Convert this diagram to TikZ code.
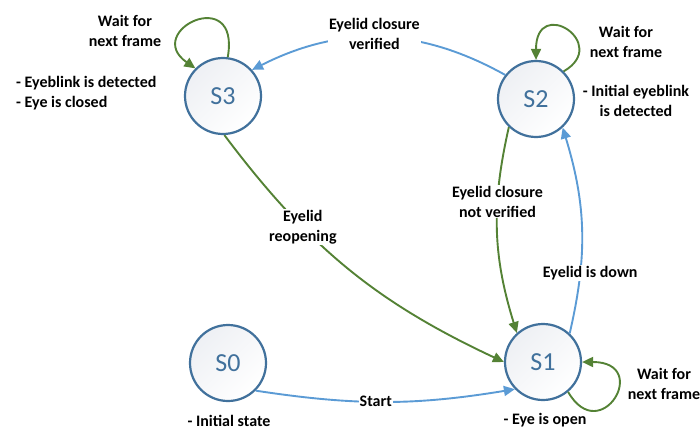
\documentclass[tikz,border=0pt]{standalone}
\usepackage{fontspec}
\setmainfont{Carlito}
\usepackage{tikz}
\usetikzlibrary{arrows.meta}
\definecolor{leafgreen}{HTML}{548235}
\definecolor{skyblue}{HTML}{5B9BD5}
\definecolor{slateblue}{HTML}{41719C}
\definecolor{statefill}{HTML}{EEF0F4}
\tikzset{
  state/.style={circle, draw=slateblue, line width=2.2pt, minimum size=76pt,
    inner sep=0pt, top color=statefill, bottom color=white, shading angle=45,
    text=slateblue, font=\fontsize{26}{30}\selectfont},
  trans/.style={-{Triangle[length=11pt,width=10pt]}, line width=1.9pt},
  note/.style={font=\bfseries\fontsize{16}{20}\selectfont, align=center,
    inner sep=1pt, text=black},
  tag/.style={note, fill=white}
}

\begin{document}
\begin{tikzpicture}[x=1pt, y=1pt]

  \useasboundingbox (0,0) rectangle (700,432);

  % states
  \foreach \n/\x/\y in {S0/228/69, S1/543/70, S2/536/333, S3/223/336}{
    \node[state] (\n) at (\x,\y) {\n};
  }

  % self loops
  \draw[trans, leafgreen] (S3.83) .. controls +(80:75) and +(145:65) .. (S3.135);
  \draw[trans, leafgreen] (S2.45) .. controls +(30:55) and +(90:65) .. (S2.90);
  \draw[trans, leafgreen] (S1.-50) .. controls +(-60:65) and +(0:70) .. (S1.0);

  % transitions
  \draw[trans, skyblue] (S0.-45) to[bend right=9]
    node[tag, pos=0.46] {Start} (S1.224);
  \draw[trans, skyblue] (S1.47) to[bend right=15]
    node[tag, pos=0.28, xshift=10pt] {Eyelid is down} (S2.-47);
  \draw[trans, skyblue] (S2.142) to[bend right=28]
    node[tag, pos=0.52, yshift=4pt] {Eyelid closure\\verified} (S3.42);
  \draw[trans, leafgreen] (S2.226) to[bend right=15]
    node[tag, pos=0.35] {Eyelid closure\\not verified} (S1.132);
  \draw[trans, leafgreen] (S3.-88) to[bend right=14]
    node[tag, pos=0.32] {Eyelid\\reopening} (S1.180);

  % notes
  \node[note] (waitA) at (125,401) {Wait for\\next frame};
  \node[note, anchor=west, align=left] (infoA) at (15,339) {- Eyeblink is detected\\- Eye is closed};
  \node[note] (waitB) at (626,390) {Wait for\\next frame};
  \node[note] (infoB) at (636,331) {- Initial eyeblink\\is detected};
  \node[note] (waitC) at (664,48) {Wait for\\next frame};
  \node[note] (infoC) at (545,12) {- Eye is open};
  \node[note] (infoD) at (229,11) {- Initial state};

\end{tikzpicture}
\end{document}
